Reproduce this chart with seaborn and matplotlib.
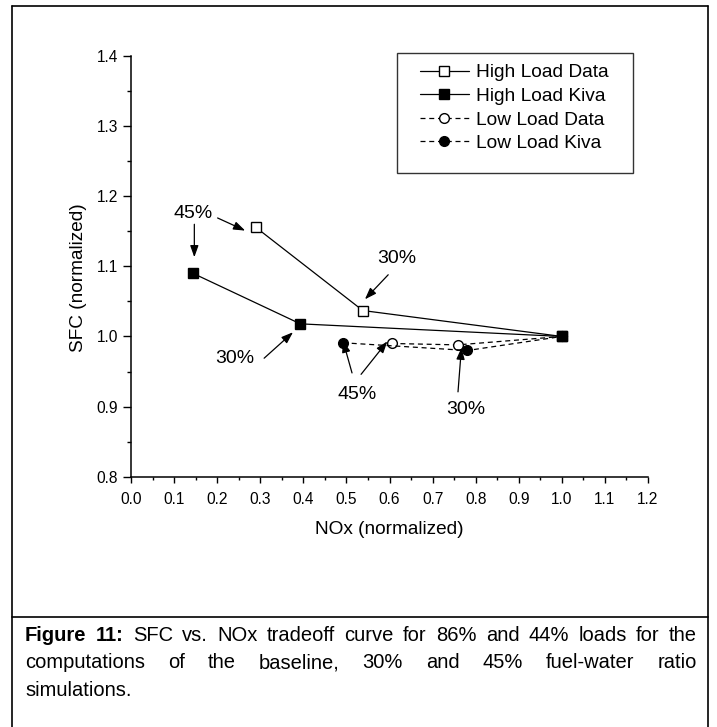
import numpy as np
import pandas as pd
import matplotlib
matplotlib.use("Agg")
import matplotlib.pyplot as plt
import seaborn as sns
from matplotlib.lines import Line2D
from matplotlib.patches import Rectangle
from matplotlib.transforms import IdentityTransform
from matplotlib.ticker import MultipleLocator

# ---------------- data ----------------
series_names = ["High Load Data", "High Load Kiva", "Low Load Data", "Low Load Kiva"]
high_data_nox = [0.289, 0.538, 1.0]
high_data_sfc = [1.156, 1.037, 1.0]
high_kiva_nox = [0.144, 0.393, 1.0]
high_kiva_sfc = [1.090, 1.018, 1.0]
low_data_nox = [0.605, 0.758, 1.0]
low_data_sfc = [0.990, 0.988, 1.0]
low_kiva_nox = [0.492, 0.781, 1.0]
low_kiva_sfc = [0.991, 0.980, 1.0]

x_ticks = [0.0, 0.1, 0.2, 0.3, 0.4, 0.5, 0.6, 0.7, 0.8, 0.9, 1.0, 1.1, 1.2]
y_ticks = [0.8, 0.9, 1.0, 1.1, 1.2, 1.3, 1.4]
x_label = "NOx (normalized)"
y_label = "SFC (normalized)"

annot_labels = ["45%", "30%", "30%", "45%", "30%"]
caption_bold = "Figure 11:"
caption_lines = [
    "SFC vs. NOx tradeoff curve for 86% and 44% loads for the",
    "computations of the baseline, 30% and 45% fuel-water ratio",
    "simulations.",
]

# ---------------- layout / style ----------------
W, H = 717, 727
sns.set_theme(style="ticks")
plt.rcParams["font.family"] = ["Liberation Sans", "DejaVu Sans"]

fig = plt.figure(figsize=(W / 100, H / 100), dpi=100)
fig.patch.set_facecolor("white")
ax_left, ax_right, ax_top, ax_bottom = 131, 648, 56, 476.7
ax = fig.add_axes([ax_left / W, 1 - ax_bottom / H, (ax_right - ax_left) / W, (ax_bottom - ax_top) / H])
ax.set_facecolor("white")

frames = []
for name, xs, ys in zip(series_names,
                        [high_data_nox, high_kiva_nox, low_data_nox, low_kiva_nox],
                        [high_data_sfc, high_kiva_sfc, low_data_sfc, low_kiva_sfc]):
    frames.append(pd.DataFrame({"series": name, "NOx": xs, "SFC": ys}))
df = pd.concat(frames, ignore_index=True)

dash = (0, (4, 3))
msize = 7
styles = {
    "High Load Data": dict(marker="s", markerfacecolor="white", linestyle="-"),
    "High Load Kiva": dict(marker="s", markerfacecolor="black", linestyle="-"),
    "Low Load Data": dict(marker="o", markerfacecolor="white", linestyle=dash),
    "Low Load Kiva": dict(marker="o", markerfacecolor="black", linestyle=dash),
}
draw_order = ["Low Load Data", "Low Load Kiva", "High Load Data", "High Load Kiva"]
for name in draw_order:
    sub = df[df["series"] == name]
    st = styles[name]
    sns.lineplot(data=sub, x="NOx", y="SFC", ax=ax, color="black", sort=False,
                 estimator=None, legend=False, linewidth=0.9,
                 marker=st["marker"], markersize=msize,
                 markerfacecolor=st["markerfacecolor"], markeredgecolor="black",
                 markeredgewidth=1.0, linestyle=st["linestyle"])

ax.set_xlim(0.0, 1.2)
ax.set_ylim(0.8, 1.4)
ax.set_xticks(x_ticks)
ax.set_xticklabels([f"{v:.1f}" for v in x_ticks])
ax.set_yticks(y_ticks)
ax.set_yticklabels([f"{v:.1f}" for v in y_ticks])
ax.xaxis.set_minor_locator(MultipleLocator(0.05))
ax.yaxis.set_minor_locator(MultipleLocator(0.05))
ax.tick_params(which="both", direction="out", width=1.0, color="black")
ax.tick_params(axis="x", which="major", length=4, labelsize=11.2, labelcolor="black", pad=7)
ax.tick_params(axis="x", which="minor", length=2.5)
ax.tick_params(axis="y", which="major", length=5.5, labelsize=11.2, labelcolor="black", pad=3.8)
ax.tick_params(axis="y", which="minor", length=3)
sns.despine(ax=ax)
for s in ["left", "bottom"]:
    ax.spines[s].set_color("black")
    ax.spines[s].set_linewidth(1.1)
ax.grid(False)

ax.set_xlabel(x_label, fontsize=13.7, color="black")
ax.set_ylabel(y_label, fontsize=13.7, color="black")
ax.xaxis.set_label_coords(0.5, -0.105)
ax.yaxis.set_label_coords(-0.085, 0.472)

# annotations (text positions and arrows in data coordinates)
annot_text_pos = [(0.144, 1.176), (0.616, 1.111), (0.241, 0.968), (0.526, 0.917), (0.777, 0.896)]
annot_arrows = [
    [((0.147, 1.160), (0.147, 1.113)), ((0.201, 1.169), (0.265, 1.151))],
    [((0.597, 1.088), (0.543, 1.053))],
    [((0.309, 0.969), (0.376, 1.006))],
    [((0.513, 0.948), (0.492, 0.994)), ((0.534, 0.946), (0.595, 0.993))],
    [((0.759, 0.921), (0.767, 0.984))],
]
for lab, pos, arrows in zip(annot_labels, annot_text_pos, annot_arrows):
    ax.text(pos[0], pos[1], lab, fontsize=14, ha="center", va="center", color="black")
    for start, end in arrows:
        ax.annotate("", xy=end, xytext=start,
                    arrowprops=dict(arrowstyle="-|>,head_length=0.7,head_width=0.25",
                                    color="black", lw=0.9, shrinkA=0, shrinkB=0,
                                    mutation_scale=10))

# legend
handles = [Line2D([0], [0], color="black", lw=0.9, linestyle=styles[n]["linestyle"],
                  marker=styles[n]["marker"], markersize=msize,
                  markerfacecolor=styles[n]["markerfacecolor"], markeredgecolor="black",
                  markeredgewidth=1.0) for n in series_names]
leg = ax.legend(handles, series_names, loc="upper left", frameon=False, fontsize=13.8,
                bbox_to_anchor=(420 / W, 1 - 64 / H), bbox_transform=fig.transFigure,
                borderpad=0, borderaxespad=0, handlelength=2.55, handletextpad=0.36,
                labelspacing=0.32)
for t in leg.get_texts():
    t.set_color("black")
fig.add_artist(Rectangle((397, H - 173), 236, 120, transform=IdentityTransform(),
                         fill=False, edgecolor="#333333", linewidth=1.0))

# outer border + caption separator
tr = IdentityTransform()
fig.add_artist(Line2D([12, 12], [0, H - 6], transform=tr, color="black", lw=1.2))
fig.add_artist(Line2D([708, 708], [0, H - 6], transform=tr, color="black", lw=1.2))
fig.add_artist(Line2D([12, 708], [H - 6, H - 6], transform=tr, color="black", lw=1.2))
fig.add_artist(Line2D([12, 708], [H - 617, H - 617], transform=tr, color="black", lw=1.2))

# caption (justified)
fig.canvas.draw()
renderer = fig.canvas.get_renderer()
cap_left, cap_right = 25, 697
word_rows = [[("Figure", "bold"), ("11:", "bold")] + [(w, "normal") for w in caption_lines[0].split()],
             [(w, "normal") for w in caption_lines[1].split()],
             [(w, "normal") for w in caption_lines[2].split()]]


def natural_width(row, size):
    ws = []
    for w, wt in row:
        t = fig.text(0, 0, w, fontsize=size, fontweight=wt)
        ws.append(t.get_window_extent(renderer).width)
        t.remove()
    sp = fig.text(0, 0, "a a", fontsize=size)
    sa = fig.text(0, 0, "aa", fontsize=size)
    space = sp.get_window_extent(renderer).width - sa.get_window_extent(renderer).width
    sp.remove(); sa.remove()
    return sum(ws) + space * (len(row) - 1), space


base_size = 12.0
nw, _ = natural_width(word_rows[0], base_size)
cap_size = base_size * (cap_right - cap_left) / nw
cap_size = min(max(cap_size, 11.5), 14.5)
_, space_w = natural_width(word_rows[2], cap_size)
baselines = [641, 668.5, 696]
for i, (row, base) in enumerate(zip(word_rows, baselines)):
    texts = []
    for w, wt in row:
        t = fig.text(0, H - base, w, transform=tr, fontsize=cap_size, fontweight=wt,
                     ha="left", va="baseline", color="black")
        texts.append(t)
    widths = [t.get_window_extent(renderer).width for t in texts]
    if i < len(word_rows) - 1:
        gap = (cap_right - cap_left - sum(widths)) / (len(texts) - 1)
    else:
        gap = space_w
    x = cap_left
    for t, wdt in zip(texts, widths):
        t.set_x(x)
        x += wdt + gap

fig.savefig("out.png", dpi=100, facecolor="white")
